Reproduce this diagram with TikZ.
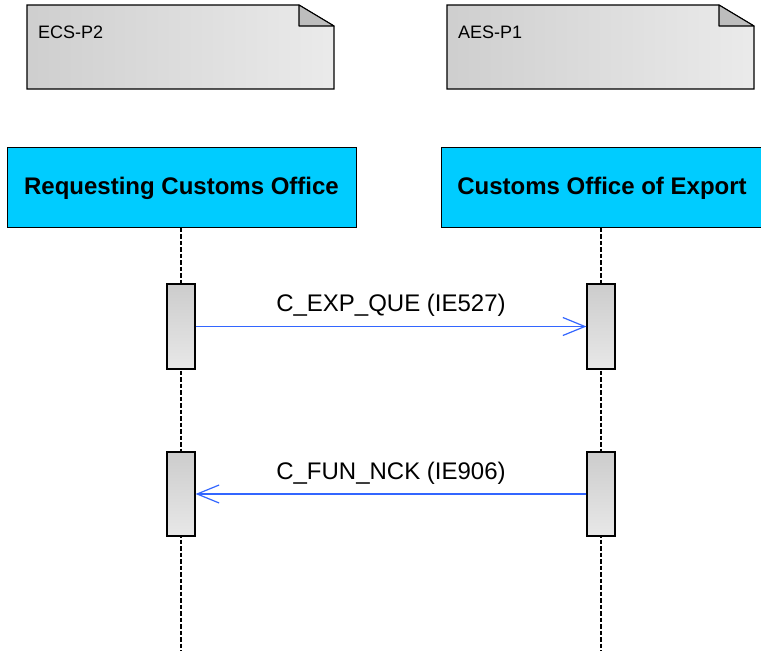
\documentclass[tikz,border=0pt]{standalone}
\usepackage{fontspec}
\setmainfont{Liberation Sans}
\usetikzlibrary{arrows.meta}

\definecolor{hdrcyan}{HTML}{00CCFF}
\definecolor{msgblue}{HTML}{3366FF}
\definecolor{edgegray}{HTML}{000000}

\tikzset{
    header/.style={draw=edgegray, fill=hdrcyan, line width=1pt, minimum height=80pt,
        inner sep=0pt, text height=16pt, text depth=2pt, font=\fontsize{24}{28}\selectfont\bfseries},
    activation/.style={draw=edgegray, line width=1.1pt, top color=black!20, bottom color=black!9,
        minimum width=28pt, minimum height=85pt, inner sep=0pt},
    lifeline/.style={edgegray, line width=1.1pt, dash pattern=on 4.5pt off 2pt},
    msg/.style={msgblue, line width=1.2pt, -{Straight Barb[length=22pt, width=18pt, line width=1.2pt]}},
    notepaper/.style={draw=edgegray, line width=1.1pt, left color=black!19, right color=black!8},
    notefold/.style={draw=edgegray, line width=1.1pt, fill=black!26, line join=round},
}

\begin{document}
\begin{tikzpicture}[x=1pt, y=-1pt]
    \useasboundingbox (0,0) rectangle (761,651);

    \path[notepaper] (27,5) -- (299,5) -- (334,26) -- (334,89) -- (27,89) -- cycle;
    \path[notefold] (299,5) -- (299,26) -- (334,26) -- cycle;
    \node[anchor=base west, inner sep=0pt, font=\fontsize{18}{20}\selectfont] (noteA) at (38,38) {ECS-P2};

    \path[notepaper] (447,5) -- (719,5) -- (754,26) -- (754,89) -- (447,89) -- cycle;
    \path[notefold] (719,5) -- (719,26) -- (754,26) -- cycle;
    \node[anchor=base west, inner sep=0pt, font=\fontsize{18}{20}\selectfont] (noteB) at (458,38) {AES-P1};

    \node[header, minimum width=349pt] (hdrA) at (181.5,187) {Requesting Customs Office};
    \node[header, minimum width=322pt] (hdrB) at (602,187) {Customs Office of Export};

    \coordinate (endA) at (181,651);
    \coordinate (endB) at (601,651);
    \draw[lifeline] (hdrA.south -| endA) -- (endA);
    \draw[lifeline] (hdrB.south -| endB) -- (endB);

    \node[activation] (qryA) at (181,326.5) {};
    \node[activation] (qryB) at (601,326.5) {};
    \node[activation, minimum height=84pt] (nckA) at (181,494) {};
    \node[activation, minimum height=84pt] (nckB) at (601,494) {};

    \draw[msg] (qryA.east) -- (qryB.west)
        node[midway, above=6pt, black, font=\fontsize{24}{28}\selectfont] (lblQ) {C\_EXP\_QUE (IE527)};
    \draw[msg] (nckB.west) -- (nckA.east)
        node[midway, above=6pt, black, font=\fontsize{24}{28}\selectfont] (lblN) {C\_FUN\_NCK (IE906)};
\end{tikzpicture}
\end{document}
